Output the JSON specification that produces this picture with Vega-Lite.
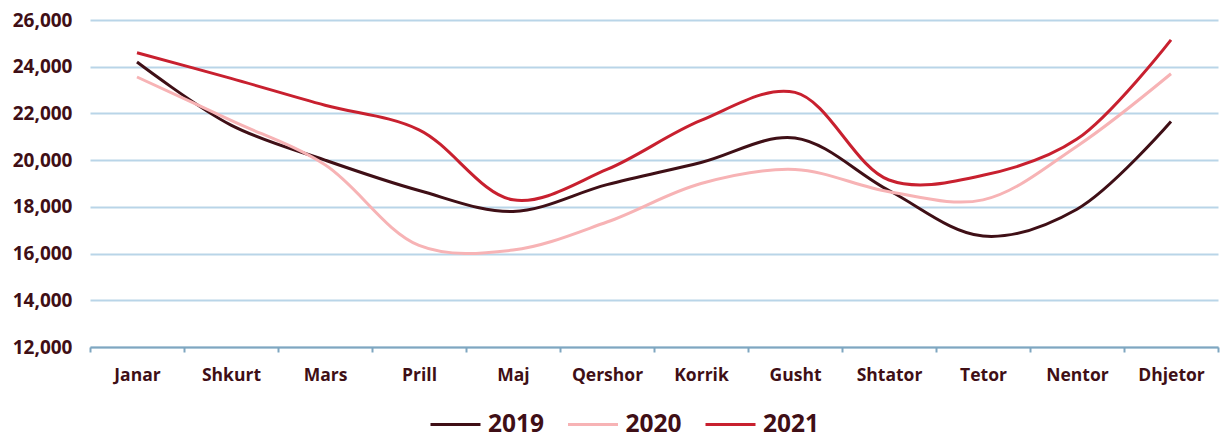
{
  "$schema": "https://vega.github.io/schema/vega-lite/v6.json",
  "width": 1128,
  "height": 327,
  "autosize": {"type": "none"},
  "padding": {"top": 20, "left": 90, "right": 4, "bottom": 94},
  "background": "white",
  "config": {"view": {"stroke": null}, "font": "Open Sans"},
  "data": {"values": [
    {"month": "Janar", "year": "2019", "value": 24200},
    {"month": "Shkurt", "year": "2019", "value": 21500},
    {"month": "Mars", "year": "2019", "value": 20000},
    {"month": "Prill", "year": "2019", "value": 18700},
    {"month": "Maj", "year": "2019", "value": 17800},
    {"month": "Qershor", "year": "2019", "value": 18950},
    {"month": "Korrik", "year": "2019", "value": 19900},
    {"month": "Gusht", "year": "2019", "value": 20950},
    {"month": "Shtator", "year": "2019", "value": 18700},
    {"month": "Tetor", "year": "2019", "value": 16750},
    {"month": "Nentor", "year": "2019", "value": 17900},
    {"month": "Dhjetor", "year": "2019", "value": 21650},
    {"month": "Janar", "year": "2020", "value": 23560},
    {"month": "Shkurt", "year": "2020", "value": 21700},
    {"month": "Mars", "year": "2020", "value": 19800},
    {"month": "Prill", "year": "2020", "value": 16350},
    {"month": "Maj", "year": "2020", "value": 16150},
    {"month": "Qershor", "year": "2020", "value": 17350},
    {"month": "Korrik", "year": "2020", "value": 19000},
    {"month": "Gusht", "year": "2020", "value": 19600},
    {"month": "Shtator", "year": "2020", "value": 18650},
    {"month": "Tetor", "year": "2020", "value": 18300},
    {"month": "Nentor", "year": "2020", "value": 20600},
    {"month": "Dhjetor", "year": "2020", "value": 23700},
    {"month": "Janar", "year": "2021", "value": 24600},
    {"month": "Shkurt", "year": "2021", "value": 23500},
    {"month": "Mars", "year": "2021", "value": 22350},
    {"month": "Prill", "year": "2021", "value": 21300},
    {"month": "Maj", "year": "2021", "value": 18300},
    {"month": "Qershor", "year": "2021", "value": 19600},
    {"month": "Korrik", "year": "2021", "value": 21700},
    {"month": "Gusht", "year": "2021", "value": 22900},
    {"month": "Shtator", "year": "2021", "value": 19150},
    {"month": "Tetor", "year": "2021", "value": 19350},
    {"month": "Nentor", "year": "2021", "value": 20900},
    {"month": "Dhjetor", "year": "2021", "value": 25150}
  ]},
  "mark": {"type": "line", "interpolate": "catmull-rom", "strokeWidth": 3},
  "encoding": {
    "x": {
      "field": "month", "type": "nominal", "sort": null,
      "scale": {"type": "band", "paddingInner": 0, "paddingOuter": 0},
      "axis": {
        "title": null, "labelAngle": 0, "tickBand": "extent", "grid": false,
        "domainColor": "#7fa6c0", "domainWidth": 2, "tickColor": "#7fa6c0", "tickWidth": 2, "tickSize": 5,
        "labelFont": "Open Sans", "labelFontWeight": "bold", "labelFontSize": 17.5, "labelColor": "#3f0f16",
        "labelPadding": 14, "labelOverlap": false
      }
    },
    "y": {
      "field": "value", "type": "quantitative",
      "scale": {"domain": [12000, 26000], "nice": false, "zero": false},
      "axis": {
        "title": null, "values": [12000, 14000, 16000, 18000, 20000, 22000, 24000, 26000],
        "format": ",d", "domain": false, "ticks": false, "labelOverlap": false,
        "gridColor": "#b9d5e8", "gridWidth": 2,
        "labelFont": "Open Sans", "labelFontWeight": "bold", "labelFontSize": 19, "labelColor": "#3f0f16",
        "labelPadding": 18
      }
    },
    "color": {
      "field": "year", "type": "nominal",
      "scale": {"domain": ["2019", "2020", "2021"], "range": ["#3f0f16", "#f7b3b5", "#c8202f"]},
      "legend": {
        "title": null, "orient": "none", "direction": "horizontal",
        "legendX": 339, "legendY": 378,
        "symbolType": "stroke", "symbolSize": 2500, "symbolStrokeWidth": 3,
        "labelFont": "Open Sans", "labelFontWeight": "bold", "labelFontSize": 24.5, "labelColor": "#3f0f16",
        "labelOffset": 6, "columnPadding": 16.5, "labelLimit": 0
      }
    }
  }
}
